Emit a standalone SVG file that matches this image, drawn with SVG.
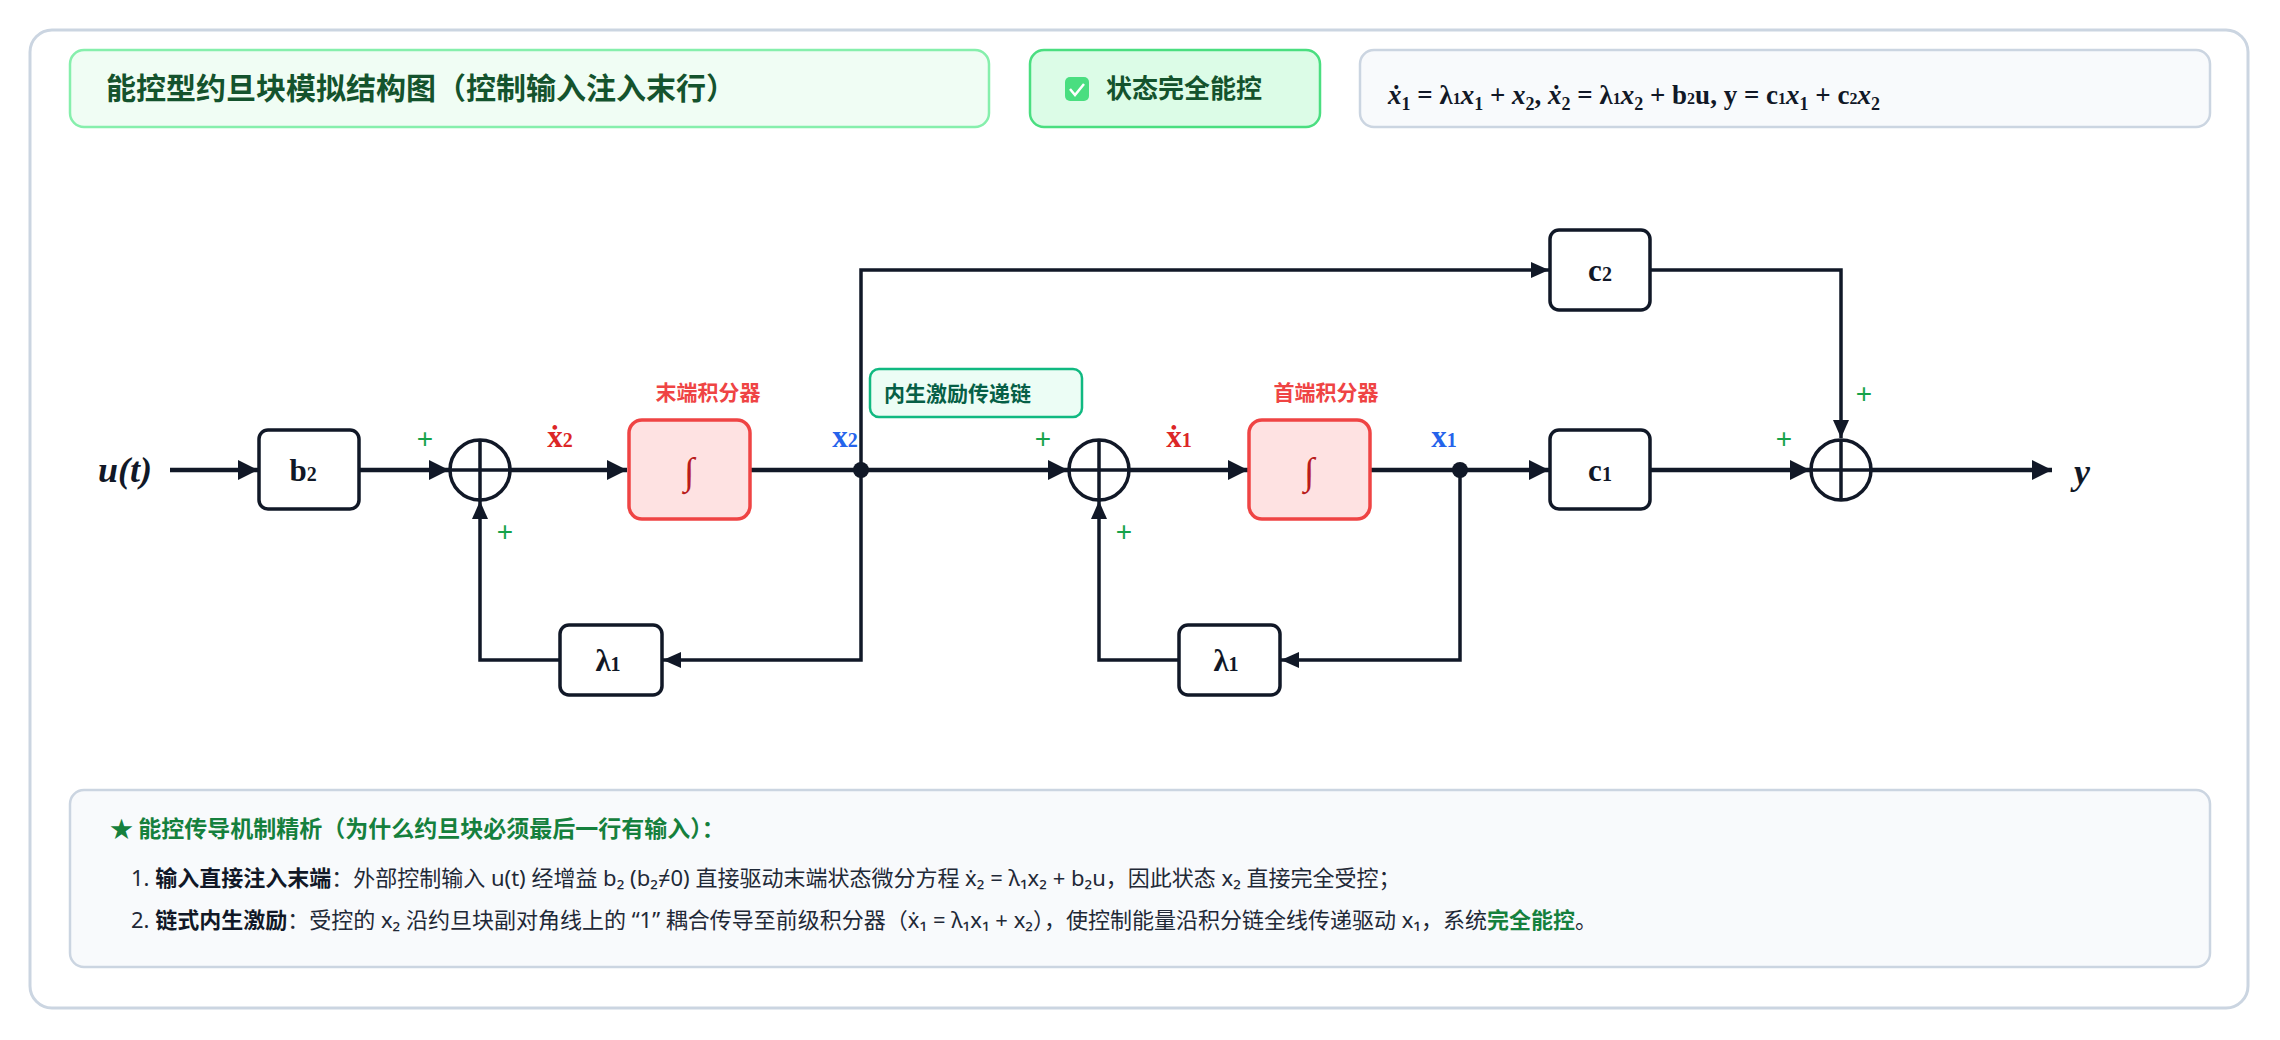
<svg xmlns="http://www.w3.org/2000/svg" width="2280" height="1040" viewBox="0 0 2280 1040">
<defs>
<marker id="ah" viewBox="0 0 10 10" refX="10" refY="5" markerWidth="20" markerHeight="20" markerUnits="userSpaceOnUse" orient="auto"><path d="M0,0 L10,5 L0,10 z" fill="#111827"/></marker>
<marker id="as" viewBox="0 0 10 10" refX="10" refY="5" markerWidth="18" markerHeight="16" markerUnits="userSpaceOnUse" orient="auto" preserveAspectRatio="none"><path d="M0,0 L10,5 L0,10 z" fill="#111827"/></marker>
</defs>
<style>
.ln{fill:none;stroke:#111827;stroke-width:4.5}
.fb{fill:none;stroke:#111827;stroke-width:3.5}
.blk{fill:#fff;stroke:#111827;stroke-width:3.5}
.sum{fill:#fff;stroke:#111827;stroke-width:3.5}
.mt{font-family:"Liberation Serif","Times New Roman",serif;font-weight:bold;font-size:31px;fill:#111827;text-anchor:middle}
.pl{font-family:"Liberation Sans",Arial,sans-serif;font-size:28px;fill:#16a34a;text-anchor:middle}
.int{fill:#fee2e2;stroke:#ef4444;stroke-width:3.5}
.rl{font-family:"Noto Sans CJK SC",sans-serif;font-weight:bold;font-size:21px;fill:#ef4444;text-anchor:middle}
.sg{font-family:"Liberation Serif",serif;font-weight:bold;font-size:31px;text-anchor:middle}
.body{font-family:"Noto Sans","Noto Sans CJK SC",sans-serif;font-size:22px;fill:#1f2937}
</style>
<rect x="30" y="30" width="2218" height="978" rx="22" fill="#fff" stroke="#cbd5e1" stroke-width="3"/>
<g id="title"><rect x="70" y="50" width="919" height="77" rx="14" fill="#f0fdf4" stroke="#86efac" stroke-width="2.5"/>
<text x="106" y="99" font-family="Noto Sans CJK SC,sans-serif" font-weight="bold" font-size="30" fill="#14532d">能控型约旦块模拟结构图（控制输入注入末行）</text></g>
<g id="badge"><rect x="1030" y="50" width="290" height="77" rx="14" fill="#dcfce7" stroke="#4ade80" stroke-width="2.5"/>
<rect x="1065" y="77" width="24" height="24" rx="5" fill="#4ade80"/><path d="M1070,89 l5,6 l9,-11" fill="none" stroke="#fff" stroke-width="2.5"/>
<text x="1106" y="98" font-family="Noto Sans CJK SC,sans-serif" font-weight="bold" font-size="26" fill="#14532d">状态完全能控</text></g>
<g id="formula"><rect x="1360" y="50" width="850" height="77" rx="14" fill="#f8fafc" stroke="#cbd5e1" stroke-width="2.5"/>
<text x="1388" y="104" font-family="Liberation Serif,serif" font-weight="bold" font-size="27" fill="#111827"><tspan font-style="italic">ẋ</tspan><tspan font-size="18" dy="6">1</tspan><tspan dy="-6"> = λ</tspan><tspan font-size="16">1</tspan><tspan font-style="italic">x</tspan><tspan font-size="18" dy="6">1</tspan><tspan dy="-6"> + </tspan><tspan font-style="italic">x</tspan><tspan font-size="18" dy="6">2</tspan><tspan dy="-6">, </tspan><tspan font-style="italic">ẋ</tspan><tspan font-size="18" dy="6">2</tspan><tspan dy="-6"> = λ</tspan><tspan font-size="16">1</tspan><tspan font-style="italic">x</tspan><tspan font-size="18" dy="6">2</tspan><tspan dy="-6"> + b</tspan><tspan font-size="16">2</tspan><tspan>u, y = c</tspan><tspan font-size="16">1</tspan><tspan font-style="italic">x</tspan><tspan font-size="18" dy="6">1</tspan><tspan dy="-6"> + c</tspan><tspan font-size="16">2</tspan><tspan font-style="italic">x</tspan><tspan font-size="18" dy="6">2</tspan></text></g>

<g id="connectors">
<path class="ln" d="M170,470 H258" marker-end="url(#ah)"/>
<path class="ln" d="M359,470 H449" marker-end="url(#ah)"/>
<path class="ln" d="M511,470 H627" marker-end="url(#ah)"/>
<path class="ln" d="M750,470 H1068" marker-end="url(#ah)"/>
<path class="ln" d="M1130,470 H1248" marker-end="url(#ah)"/>
<path class="ln" d="M1370,470 H1549" marker-end="url(#ah)"/>
<path class="ln" d="M1650,470 H1810" marker-end="url(#ah)"/>
<path class="ln" d="M1872,470 H2052" marker-end="url(#ah)"/>
<path class="fb" d="M861,470 V270 H1549" marker-end="url(#as)"/>
<path class="fb" d="M1650,270 H1841 V438" marker-end="url(#as)"/>
<path class="fb" d="M861,470 V660 H663" marker-end="url(#as)"/>
<path class="fb" d="M560,660 H480 V501" marker-end="url(#as)"/>
<path class="fb" d="M1460,470 V660 H1281" marker-end="url(#as)"/>
<path class="fb" d="M1179,660 H1099 V501" marker-end="url(#as)"/>
<circle cx="861" cy="470" r="8" fill="#111827"/>
<circle cx="1460" cy="470" r="8" fill="#111827"/>
</g>

<text x="125" y="482" font-family="Liberation Serif,serif" font-style="italic" font-weight="bold" font-size="36" fill="#111827" text-anchor="middle">u(t)</text>
<text x="2082" y="484" font-family="Liberation Serif,serif" font-style="italic" font-weight="bold" font-size="36" fill="#111827" text-anchor="middle">y</text>

<g id="b2"><rect class="blk" x="259" y="430" width="100" height="79" rx="9"/><text class="mt" x="303" y="481">b<tspan font-size="20">2</tspan></text></g>
<g id="sum1"><circle class="sum" cx="480" cy="470" r="30"/><path d="M450,470 H510 M480,440 V500" stroke="#111827" stroke-width="3.5"/><text class="pl" x="425" y="448">+</text><text class="pl" x="505" y="541">+</text></g>
<g id="int1"><rect class="int" x="629" y="420" width="121" height="99" rx="13"/><text x="689" y="484" font-family="Liberation Serif,serif" font-size="38" fill="#b91c1c" text-anchor="middle">∫</text><text class="rl" x="708" y="400">末端积分器</text></g>
<text class="sg" x="560" y="447" fill="#dc2626">ẋ<tspan font-size="20">2</tspan></text>
<text class="sg" x="845" y="447" fill="#2563eb">x<tspan font-size="20">2</tspan></text>
<g id="chainlabel"><rect x="870" y="369" width="212" height="48" rx="9" fill="#ecfdf5" stroke="#10b981" stroke-width="2.5"/><text x="884" y="401" font-family="Noto Sans CJK SC,sans-serif" font-weight="bold" font-size="21" fill="#065f46">内生激励传递链</text></g>
<g id="sum2"><circle class="sum" cx="1099" cy="470" r="30"/><path d="M1069,470 H1129 M1099,440 V500" stroke="#111827" stroke-width="3.5"/><text class="pl" x="1043" y="448">+</text><text class="pl" x="1124" y="541">+</text></g>
<text class="sg" x="1179" y="447" fill="#dc2626">ẋ<tspan font-size="20">1</tspan></text>
<g id="int2"><rect class="int" x="1249" y="420" width="121" height="99" rx="13"/><text x="1309" y="484" font-family="Liberation Serif,serif" font-size="38" fill="#b91c1c" text-anchor="middle">∫</text><text class="rl" x="1326" y="400">首端积分器</text></g>
<text class="sg" x="1444" y="447" fill="#2563eb">x<tspan font-size="20">1</tspan></text>
<g id="c1"><rect class="blk" x="1550" y="430" width="100" height="79" rx="9"/><text class="mt" x="1600" y="481">c<tspan font-size="20">1</tspan></text></g>
<g id="c2"><rect class="blk" x="1550" y="230" width="100" height="80" rx="9"/><text class="mt" x="1600" y="281">c<tspan font-size="20">2</tspan></text></g>
<g id="sum3"><circle class="sum" cx="1841" cy="470" r="30"/><path d="M1811,470 H1871 M1841,440 V500" stroke="#111827" stroke-width="3.5"/><text class="pl" x="1784" y="448">+</text><text class="pl" x="1864" y="403">+</text></g>
<g id="lam1"><rect class="blk" x="560" y="625" width="102" height="70" rx="9"/><text class="mt" x="608" y="671">λ<tspan font-size="20">1</tspan></text></g>
<g id="lam2"><rect class="blk" x="1179" y="625" width="101" height="70" rx="9"/><text class="mt" x="1226" y="671">λ<tspan font-size="20">1</tspan></text></g>

<g id="notes"><rect x="70" y="790" width="2140" height="177" rx="14" fill="#f8fafc" stroke="#cbd5e1" stroke-width="2.5"/>
<text x="110" y="837" font-family="Noto Sans CJK SC,sans-serif" font-weight="bold" font-size="23" fill="#15803d">★ 能控传导机制精析（为什么约旦块必须最后一行有输入）：</text>
<text class="body" x="131" y="886">1. <tspan font-weight="bold" fill="#111827">输入直接注入末端</tspan>：外部控制输入 u(t) 经增益 b₂ (b₂≠0) 直接驱动末端状态微分方程 ẋ₂ = λ₁x₂ + b₂u，因此状态 x₂ 直接完全受控；</text>
<text class="body" x="131" y="928">2. <tspan font-weight="bold" fill="#111827">链式内生激励</tspan>：受控的 x₂ 沿约旦块副对角线上的 “1” 耦合传导至前级积分器（ẋ₁ = λ₁x₁ + x₂），使控制能量沿积分链全线传递驱动 x₁，系统<tspan font-weight="bold" fill="#15803d">完全能控</tspan>。</text></g>
</svg>
